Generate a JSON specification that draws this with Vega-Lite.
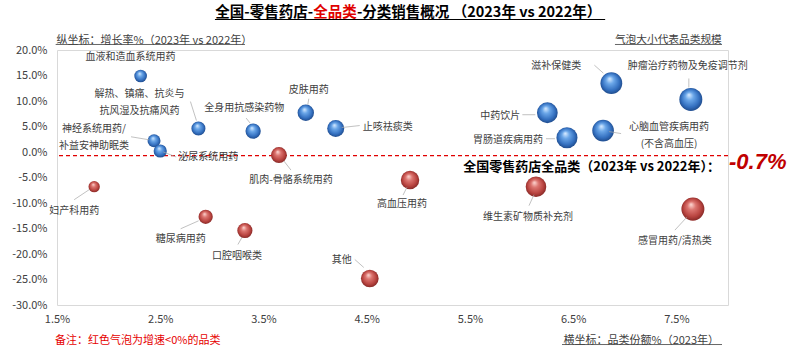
{
  "$schema": "https://vega.github.io/schema/vega-lite/v6.json",
  "width": 671,
  "height": 255,
  "autosize": {"type": "none"},
  "padding": {"left": 57, "top": 50, "right": 72, "bottom": 52},
  "background": "white",
  "config": {
    "view": {"stroke": "#d9d9d9", "strokeWidth": 1},
    "font": "Noto Sans CJK SC",
    "axis": {"labelOverlap": false, "labelFlush": false, "grid": false, "ticks": false, "domain": false},
    "text": {"font": "Noto Sans CJK SC", "fontSize": 10, "color": "#404040", "lineBreak": "\n", "lineHeight": 17, "baseline": "middle", "align": "center"},
    "rule": {"color": "#a6a6a6", "strokeWidth": 0.7}
  },
  "data": {"values": [
    {"name": "血液和造血系统用药", "share": 2.31, "growth": 14.9},
    {"name": "解热、镇痛、抗炎与\n抗风湿及抗痛风药", "share": 2.87, "growth": 4.6},
    {"name": "全身用抗感染药物", "share": 3.40, "growth": 4.1},
    {"name": "神经系统用药/\n补益安神助眠类", "share": 2.44, "growth": 2.2},
    {"name": "泌尿系统用药", "share": 2.50, "growth": 0.2},
    {"name": "肌肉-骨骼系统用药", "share": 3.65, "growth": -0.6},
    {"name": "皮肤用药", "share": 3.91, "growth": 7.7},
    {"name": "止咳祛痰类", "share": 4.20, "growth": 4.6},
    {"name": "高血压用药", "share": 4.92, "growth": -5.5},
    {"name": "中药饮片", "share": 6.25, "growth": 7.7},
    {"name": "滋补保健类", "share": 6.87, "growth": 13.5},
    {"name": "肿瘤治疗药物及免疫调节剂", "share": 7.64, "growth": 10.3},
    {"name": "胃肠道疾病用药", "share": 6.44, "growth": 2.8},
    {"name": "心脑血管疾病用药\n(不含高血压)", "share": 6.79, "growth": 4.2},
    {"name": "维生素矿物质补充剂", "share": 6.14, "growth": -6.8},
    {"name": "感冒用药/清热类", "share": 7.66, "growth": -11.2},
    {"name": "妇产科用药", "share": 1.86, "growth": -6.8},
    {"name": "糖尿病用药", "share": 2.94, "growth": -12.7},
    {"name": "口腔咽喉类", "share": 3.32, "growth": -15.4},
    {"name": "其他", "share": 4.53, "growth": -24.8}
  ]},
  "layer": [
    {
      "data": {"values": [{}]},
      "mark": {"type": "rule", "color": "#e00000", "strokeWidth": 1.2, "strokeDash": [4, 3]},
      "encoding": {"y": {"datum": -0.7, "type": "quantitative",
        "axis": {"values": [-30, -25, -20, -15, -10, -5, 0, 5, 10, 15, 20], "labelOverlap": false}}}
    },
    {
      "encoding": {
        "x": {"field": "share", "type": "quantitative",
          "scale": {"domain": [1.5, 8], "nice": false, "zero": false},
          "axis": {"values": [1.5, 2.5, 3.5, 4.5, 5.5, 6.5, 7.5], "labelExpr": "format(datum.value, '.1f') + '%'",
            "grid": false, "ticks": false, "domain": false, "labelFlush": false, "labelOverlap": false, "labelPadding": 8,
            "labelFontSize": 11, "labelColor": "#404040", "labelFont": "Noto Sans CJK SC",
            "title": "横坐标：品类份额%（2023年）", "titleX": 506, "titleY": 35, "titleAlign": "left", "titleBaseline": "middle",
            "titleFontWeight": "normal", "titleFontSize": 11, "titleColor": "#404040", "titleFont": "Noto Sans CJK SC"}},
        "y": {"field": "growth", "type": "quantitative",
          "scale": {"domain": [-30, 20], "nice": false, "zero": false},
          "axis": {"values": [-30, -25, -20, -15, -10, -5, 0, 5, 10, 15, 20], "tickCount": 11,
            "labelExpr": "(datum.value < 0 ? '-' : '') + format(abs(datum.value), '.1f') + '%'",
            "grid": false, "ticks": false, "domain": false, "labelOverlap": false, "labelFlush": false, "labelPadding": 10,
            "labelFontSize": 11, "labelColor": "#404040", "labelFont": "Noto Sans CJK SC",
            "title": "纵坐标：增长率%（2023年 vs 2022年）", "titleAngle": 0, "titleX": -1, "titleY": -10,
            "titleAlign": "left", "titleBaseline": "middle", "titleFontWeight": "normal", "titleFontSize": 11,
            "titleColor": "#404040", "titleFont": "Noto Sans CJK SC"}}
      },
      "layer": [
        {
          "transform": [{"filter": "datum.growth >= 0"}],
          "mark": {"type": "circle", "opacity": 1, "clip": false,
            "fill": {"gradient": "radial", "x1": 0.42, "y1": 0.3, "r1": 0.02, "x2": 0.5, "y2": 0.5, "r2": 0.55,
              "stops": [{"offset": 0, "color": "#cfe6ff"}, {"offset": 0.3, "color": "#6aa6e8"}, {"offset": 0.7, "color": "#3470c0"}, {"offset": 1, "color": "#1a427f"}]}},
          "encoding": {"size": {"field": "share", "type": "quantitative", "scale": {"domain": [0, 8], "range": [0, 553]}, "legend": null}}
        },
        {
          "transform": [{"filter": "datum.growth < 0"}],
          "mark": {"type": "circle", "opacity": 1, "clip": false,
            "fill": {"gradient": "radial", "x1": 0.42, "y1": 0.3, "r1": 0.02, "x2": 0.5, "y2": 0.5, "r2": 0.55,
              "stops": [{"offset": 0, "color": "#fbd0cb"}, {"offset": 0.3, "color": "#dc7570"}, {"offset": 0.7, "color": "#b8433f"}, {"offset": 1, "color": "#7a2220"}]}},
          "encoding": {"size": {"field": "share", "type": "quantitative", "scale": {"domain": [0, 8], "range": [0, 553]}, "legend": null}}
        },
        {"transform": [{"filter": {"field": "name", "equal": "解热、镇痛、抗炎与\n抗风湿及抗痛风药"}}], "mark": {"type": "rule", "xOffset": -8, "yOffset": -27, "x2Offset": -2, "y2Offset": -8}, "encoding": {"x2": {"field": "share"}, "y2": {"field": "growth"}}},
        {"transform": [{"filter": {"field": "name", "equal": "全身用抗感染药物"}}], "mark": {"type": "rule", "xOffset": -7, "yOffset": -13, "x2Offset": -3, "y2Offset": -8}, "encoding": {"x2": {"field": "share"}, "y2": {"field": "growth"}}},
        {"transform": [{"filter": {"field": "name", "equal": "神经系统用药/\n补益安神助眠类"}}], "mark": {"type": "rule", "xOffset": -23, "yOffset": -4, "x2Offset": -5, "y2Offset": -1}, "encoding": {"x2": {"field": "share"}, "y2": {"field": "growth"}}},
        {"transform": [{"filter": {"field": "name", "equal": "泌尿系统用药"}}], "mark": {"type": "rule", "xOffset": 3, "yOffset": 1, "x2Offset": 16, "y2Offset": 6}, "encoding": {"x2": {"field": "share"}, "y2": {"field": "growth"}}},
        {"transform": [{"filter": {"field": "name", "equal": "肌肉-骨骼系统用药"}}], "mark": {"type": "rule", "xOffset": 5, "yOffset": 6, "x2Offset": 12, "y2Offset": 15}, "encoding": {"x2": {"field": "share"}, "y2": {"field": "growth"}}},
        {"transform": [{"filter": {"field": "name", "equal": "皮肤用药"}}], "mark": {"type": "rule", "xOffset": 3, "yOffset": -14, "x2Offset": 2, "y2Offset": -8}, "encoding": {"x2": {"field": "share"}, "y2": {"field": "growth"}}},
        {"transform": [{"filter": {"field": "name", "equal": "止咳祛痰类"}}], "mark": {"type": "rule", "xOffset": 6, "yOffset": -1, "x2Offset": 24, "y2Offset": -3}, "encoding": {"x2": {"field": "share"}, "y2": {"field": "growth"}}},
        {"transform": [{"filter": {"field": "name", "equal": "高血压用药"}}], "mark": {"type": "rule", "xOffset": -3, "yOffset": 7, "x2Offset": -7, "y2Offset": 15}, "encoding": {"x2": {"field": "share"}, "y2": {"field": "growth"}}},
        {"transform": [{"filter": {"field": "name", "equal": "中药饮片"}}], "mark": {"type": "rule", "xOffset": -25, "yOffset": 2, "x2Offset": -12, "y2Offset": 2}, "encoding": {"x2": {"field": "share"}, "y2": {"field": "growth"}}},
        {"transform": [{"filter": {"field": "name", "equal": "滋补保健类"}}], "mark": {"type": "rule", "xOffset": -17, "yOffset": -18, "x2Offset": -8, "y2Offset": -10}, "encoding": {"x2": {"field": "share"}, "y2": {"field": "growth"}}},
        {"transform": [{"filter": {"field": "name", "equal": "肿瘤治疗药物及免疫调节剂"}}], "mark": {"type": "rule", "xOffset": -2, "yOffset": -21, "x2Offset": -2, "y2Offset": -12}, "encoding": {"x2": {"field": "share"}, "y2": {"field": "growth"}}},
        {"transform": [{"filter": {"field": "name", "equal": "胃肠道疾病用药"}}], "mark": {"type": "rule", "xOffset": -21, "yOffset": 1, "x2Offset": -12, "y2Offset": 1}, "encoding": {"x2": {"field": "share"}, "y2": {"field": "growth"}}},
        {"transform": [{"filter": {"field": "name", "equal": "心脑血管疾病用药\n(不含高血压)"}}], "mark": {"type": "rule", "xOffset": 6, "yOffset": 1, "x2Offset": 18, "y2Offset": 3}, "encoding": {"x2": {"field": "share"}, "y2": {"field": "growth"}}},
        {"transform": [{"filter": {"field": "name", "equal": "维生素矿物质补充剂"}}], "mark": {"type": "rule", "xOffset": -7, "yOffset": 19, "x2Offset": -2, "y2Offset": 8}, "encoding": {"x2": {"field": "share"}, "y2": {"field": "growth"}}},
        {"transform": [{"filter": {"field": "name", "equal": "感冒用药/清热类"}}], "mark": {"type": "rule", "xOffset": -18, "yOffset": 21, "x2Offset": -6, "y2Offset": 8}, "encoding": {"x2": {"field": "share"}, "y2": {"field": "growth"}}},
        {"transform": [{"filter": {"field": "name", "equal": "妇产科用药"}}], "mark": {"type": "rule", "xOffset": -20, "yOffset": 13, "x2Offset": -5, "y2Offset": 3}, "encoding": {"x2": {"field": "share"}, "y2": {"field": "growth"}}},
        {"transform": [{"filter": {"field": "name", "equal": "糖尿病用药"}}], "mark": {"type": "rule", "xOffset": -25, "yOffset": 12, "x2Offset": -7, "y2Offset": 4}, "encoding": {"x2": {"field": "share"}, "y2": {"field": "growth"}}},
        {"transform": [{"filter": {"field": "name", "equal": "口腔咽喉类"}}], "mark": {"type": "rule", "xOffset": -7, "yOffset": 14, "x2Offset": -3, "y2Offset": 7}, "encoding": {"x2": {"field": "share"}, "y2": {"field": "growth"}}},
        {"transform": [{"filter": {"field": "name", "equal": "其他"}}], "mark": {"type": "rule", "xOffset": -15, "yOffset": -19, "x2Offset": -6, "y2Offset": -11}, "encoding": {"x2": {"field": "share"}, "y2": {"field": "growth"}}},

        {"transform": [{"filter": {"field": "name", "equal": "血液和造血系统用药"}}], "mark": {"type": "text", "dx": -10, "dy": -19}, "encoding": {"text": {"field": "name"}}},
        {"transform": [{"filter": {"field": "name", "equal": "解热、镇痛、抗炎与\n抗风湿及抗痛风药"}}], "mark": {"type": "text", "dx": -59, "dy": -34.5}, "encoding": {"text": {"field": "name"}}},
        {"transform": [{"filter": {"field": "name", "equal": "全身用抗感染药物"}}], "mark": {"type": "text", "dx": -9, "dy": -23}, "encoding": {"text": {"field": "name"}}},
        {"transform": [{"filter": {"field": "name", "equal": "神经系统用药/\n补益安神助眠类"}}], "mark": {"type": "text", "dx": -60, "dy": -11.5}, "encoding": {"text": {"field": "name"}}},
        {"transform": [{"filter": {"field": "name", "equal": "泌尿系统用药"}}], "mark": {"type": "text", "align": "left", "dx": 18, "dy": 6}, "encoding": {"text": {"field": "name"}}},
        {"transform": [{"filter": {"field": "name", "equal": "肌肉-骨骼系统用药"}}], "mark": {"type": "text", "dx": 12, "dy": 25}, "encoding": {"text": {"field": "name"}}},
        {"transform": [{"filter": {"field": "name", "equal": "皮肤用药"}}], "mark": {"type": "text", "dx": 3, "dy": -23}, "encoding": {"text": {"field": "name"}}},
        {"transform": [{"filter": {"field": "name", "equal": "止咳祛痰类"}}], "mark": {"type": "text", "align": "left", "dx": 27, "dy": -2}, "encoding": {"text": {"field": "name"}}},
        {"transform": [{"filter": {"field": "name", "equal": "高血压用药"}}], "mark": {"type": "text", "dx": -8, "dy": 24}, "encoding": {"text": {"field": "name"}}},
        {"transform": [{"filter": {"field": "name", "equal": "中药饮片"}}], "mark": {"type": "text", "align": "right", "dx": -27, "dy": 3}, "encoding": {"text": {"field": "name"}}},
        {"transform": [{"filter": {"field": "name", "equal": "滋补保健类"}}], "mark": {"type": "text", "dx": -55, "dy": -17}, "encoding": {"text": {"field": "name"}}},
        {"transform": [{"filter": {"field": "name", "equal": "肿瘤治疗药物及免疫调节剂"}}], "mark": {"type": "text", "dx": -3, "dy": -33}, "encoding": {"text": {"field": "name"}}},
        {"transform": [{"filter": {"field": "name", "equal": "胃肠道疾病用药"}}], "mark": {"type": "text", "align": "right", "dx": -24, "dy": 2}, "encoding": {"text": {"field": "name"}}},
        {"transform": [{"filter": {"field": "name", "equal": "心脑血管疾病用药\n(不含高血压)"}}], "mark": {"type": "text", "dx": 66, "dy": -3.5}, "encoding": {"text": {"field": "name"}}},
        {"transform": [{"filter": {"field": "name", "equal": "维生素矿物质补充剂"}}], "mark": {"type": "text", "dx": -8, "dy": 30}, "encoding": {"text": {"field": "name"}}},
        {"transform": [{"filter": {"field": "name", "equal": "感冒用药/清热类"}}], "mark": {"type": "text", "dx": -18, "dy": 32}, "encoding": {"text": {"field": "name"}}},
        {"transform": [{"filter": {"field": "name", "equal": "妇产科用药"}}], "mark": {"type": "text", "dx": -20, "dy": 24}, "encoding": {"text": {"field": "name"}}},
        {"transform": [{"filter": {"field": "name", "equal": "糖尿病用药"}}], "mark": {"type": "text", "dx": -25, "dy": 22}, "encoding": {"text": {"field": "name"}}},
        {"transform": [{"filter": {"field": "name", "equal": "口腔咽喉类"}}], "mark": {"type": "text", "dx": -8, "dy": 25}, "encoding": {"text": {"field": "name"}}},
        {"transform": [{"filter": {"field": "name", "equal": "其他"}}], "mark": {"type": "text", "align": "right", "dx": -18, "dy": -18}, "encoding": {"text": {"field": "name"}}}
      ]
    },
    {
      "data": {"values": [{}]},
      "mark": {"type": "text", "text": "全国零售药店全品类（2023年 vs 2022年）：", "align": "right", "dx": -8, "dy": 11, "fontSize": 13, "fontWeight": "bold", "color": "#000000"},
      "encoding": {"x": {"datum": 8, "type": "quantitative"}, "y": {"datum": -0.7, "type": "quantitative"}}
    },
    {
      "data": {"values": [{}]},
      "mark": {"type": "text", "text": "-0.7%", "align": "left", "dx": 1, "dy": 6, "font": "Liberation Sans", "fontSize": 22, "fontWeight": "bold", "fontStyle": "italic", "color": "#c00000"},
      "encoding": {"x": {"datum": 8, "type": "quantitative"}, "y": {"datum": -0.7, "type": "quantitative"}}
    },
    {
      "data": {"values": [{}]},
      "mark": {"type": "text", "text": "全国-零售药店-", "align": "right", "dx": -22, "fontSize": 14.5, "fontWeight": "bold", "color": "#000000"},
      "encoding": {"x": {"datum": 4.193, "type": "quantitative"}, "y": {"datum": 27.35, "type": "quantitative"}}
    },
    {
      "data": {"values": [{}]},
      "mark": {"type": "text", "text": "全品类", "align": "center", "fontSize": 14.5, "fontWeight": "bold", "color": "#e00000"},
      "encoding": {"x": {"datum": 4.193, "type": "quantitative"}, "y": {"datum": 27.35, "type": "quantitative"}}
    },
    {
      "data": {"values": [{}]},
      "mark": {"type": "text", "text": "-分类销售概况 （2023年 vs 2022年）", "align": "left", "dx": 22, "fontSize": 14.5, "fontWeight": "bold", "color": "#000000"},
      "encoding": {"x": {"datum": 4.193, "type": "quantitative"}, "y": {"datum": 27.35, "type": "quantitative"}}
    },
    {
      "data": {"values": [{}]},
      "mark": {"type": "text", "text": "气泡大小代表品类规模", "align": "center", "fontSize": 10.7, "color": "#404040"},
      "encoding": {"x": {"datum": 7.422, "type": "quantitative"}, "y": {"datum": 21.96, "type": "quantitative"}}
    },
    {
      "data": {"values": [{}]},
      "mark": {"type": "text", "text": "备注：红色气泡为增速<0%的品类", "align": "left", "fontSize": 11, "color": "#e60000"},
      "encoding": {"x": {"datum": 1.481, "type": "quantitative"}, "y": {"datum": -37.0, "type": "quantitative"}}
    },
    {
      "data": {"values": [{}]},
      "mark": {"type": "rule", "color": "#000000", "strokeWidth": 1.2},
      "encoding": {"x": {"datum": 3.03, "type": "quantitative"}, "x2": {"datum": 6.81}, "y": {"datum": 25.98, "type": "quantitative"}}
    },
    {
      "data": {"values": [{}]},
      "mark": {"type": "rule", "color": "#404040", "strokeWidth": 0.8},
      "encoding": {"x": {"datum": 1.487, "type": "quantitative"}, "x2": {"datum": 3.321}, "y": {"datum": 21.08, "type": "quantitative"}}
    },
    {
      "data": {"values": [{}]},
      "mark": {"type": "rule", "color": "#404040", "strokeWidth": 0.8},
      "encoding": {"x": {"datum": 6.905, "type": "quantitative"}, "x2": {"datum": 7.942}, "y": {"datum": 21.08, "type": "quantitative"}}
    },
    {
      "data": {"values": [{}]},
      "mark": {"type": "rule", "color": "#404040", "strokeWidth": 0.8},
      "encoding": {"x": {"datum": 6.392, "type": "quantitative"}, "x2": {"datum": 7.942}, "y": {"datum": -37.75, "type": "quantitative"}}
    }
  ]
}
